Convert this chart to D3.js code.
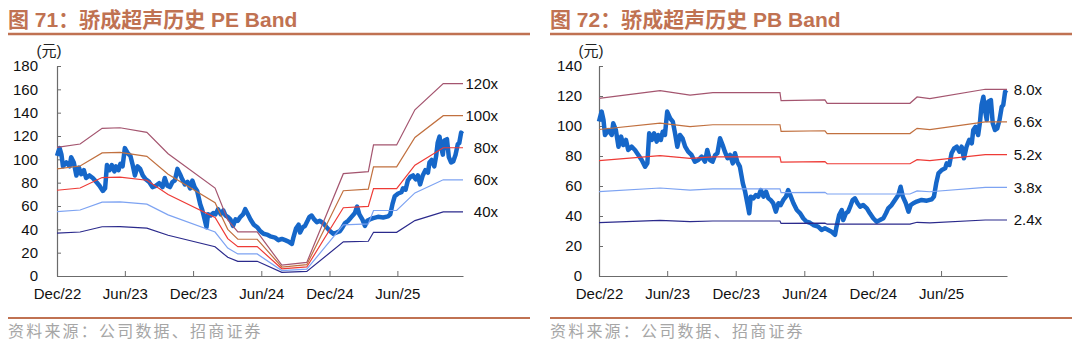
<!DOCTYPE html>
<html>
<head>
<meta charset="utf-8">
<script src="https://cdn.jsdelivr.net/npm/d3@7"></script>
<style>
  body { margin: 0; background: #fff; }
  text { font-family: "Liberation Sans", Arial, "Noto Sans CJK SC", sans-serif; }
</style>
</head>
<body>
<div id="chart"></div>
<script>
// share price (yuan)
var priceDates = ["2022-12-01","2022-12-04","2022-12-08","2022-12-13","2022-12-17","2022-12-26","2023-01-04","2023-01-08","2023-01-15","2023-01-22","2023-01-29","2023-02-04","2023-02-11","2023-02-17","2023-02-26","2023-03-07","2023-03-16","2023-03-25","2023-04-03","2023-04-09","2023-04-14","2023-04-21","2023-04-27","2023-05-04","2023-05-08","2023-05-15","2023-05-20","2023-05-26","2023-06-01","2023-06-09","2023-06-16","2023-06-22","2023-06-28","2023-07-05","2023-07-12","2023-07-19","2023-07-27","2023-08-05","2023-08-14","2023-08-23","2023-09-01","2023-09-10","2023-09-16","2023-09-23","2023-09-30","2023-10-07","2023-10-13","2023-10-20","2023-10-27","2023-11-02","2023-11-09","2023-11-16","2023-11-23","2023-11-29","2023-12-05","2023-12-12","2023-12-20","2023-12-26","2024-01-01","2024-01-06","2024-01-10","2024-01-17","2024-01-24","2024-01-30","2024-02-06","2024-02-13","2024-02-20","2024-02-26","2024-03-03","2024-03-10","2024-03-17","2024-03-24","2024-03-30","2024-04-06","2024-04-13","2024-04-19","2024-04-26","2024-05-03","2024-05-12","2024-05-21","2024-05-29","2024-06-07","2024-06-16","2024-06-25","2024-07-08","2024-07-17","2024-07-26","2024-08-04","2024-08-13","2024-08-22","2024-08-26","2024-09-02","2024-09-09","2024-09-13","2024-09-20","2024-09-26","2024-10-03","2024-10-08","2024-10-14","2024-10-21","2024-10-28","2024-11-05","2024-11-15","2024-11-23","2024-12-02","2024-12-11","2024-12-20","2024-12-29","2025-01-05","2025-01-11","2025-01-20","2025-01-29","2025-02-07","2025-02-13","2025-02-19","2025-02-27","2025-03-06","2025-03-12","2025-03-19","2025-03-28","2025-04-10","2025-04-24","2025-05-07","2025-05-13","2025-05-19","2025-05-25","2025-06-03","2025-06-12","2025-06-16","2025-06-23","2025-06-29","2025-07-06","2025-07-13","2025-07-20","2025-07-26","2025-08-01","2025-08-08","2025-08-15","2025-08-22","2025-08-26","2025-09-01","2025-09-08","2025-09-13","2025-09-17","2025-09-22","2025-09-26","2025-10-01","2025-10-05","2025-10-12","2025-10-17","2025-10-23","2025-10-29","2025-11-04","2025-11-10","2025-11-14","2025-11-19","2025-11-23"];
var priceValues = [103,106,109.6,104,94,97.3,94,101.8,97.3,86.2,92.9,87.3,90.7,84,86.2,84,80.7,77.3,72.9,75.1,95.1,90.7,95.1,89.6,94,90.7,96.2,94,109.6,105.1,102.9,95.1,86.2,94,91.8,86.2,82.9,80.7,76.2,77.3,79.6,76.2,84,77.3,76.2,80.7,81.8,91.8,87.3,82.9,78.5,80.7,75.1,81.8,76.2,72.9,61.8,56.2,48.5,41.8,52.9,51.8,54,52.9,57.3,52.9,56.2,51.8,50.7,48.5,42.9,48.5,47.3,50.7,52.9,57.3,52.9,48.5,44,41.8,38.5,36.2,35.5,34,32.9,30.7,31.8,30.7,29.5,27.5,32.9,40.7,44,37.3,41.8,42.9,47.3,50.7,51.8,48.5,46.2,47.3,45.1,41.8,38.5,36.2,37.3,38.5,41.8,45.1,47.3,50.7,54,59.5,52.9,48.5,42.9,47.3,48.5,49.6,50.7,50.2,51.1,52.9,61.8,68.4,70.7,71.8,75.1,74,81.8,85.1,86.2,82.9,86.2,78.5,86.2,90.7,88.5,97.3,99.5,94,102.9,114,119.5,110.7,104,116.2,117.3,101.8,97.3,98.4,104,112.9,114,122.9,121.8];

// trailing EPS behind the PE band
var epsDates = ["2022-12-01","2023-02-01","2023-04-01","2023-05-19","2023-07-30","2023-09-25","2024-01-29","2024-03-03","2024-03-30","2024-05-21","2024-07-26","2024-10-01","2025-01-07","2025-03-15","2025-03-29","2025-05-30","2025-07-18","2025-10-02","2025-11-24"];
var epsValues = [0.919,0.943,1.055,1.059,1.026,0.873,0.628,0.40,0.315,0.315,0.077,0.097,0.731,0.745,0.936,0.936,1.187,1.374,1.374];
var peMultiples = [120, 100, 80, 60, 40];
var peLabels = ["120x", "100x", "80x", "60x", "40x"];

// book value per share behind the PB band
var bpsDates = ["2022-12-01","2023-05-13","2023-08-01","2023-10-01","2024-03-28","2024-03-31","2024-07-26","2024-08-01","2025-03-10","2025-03-29","2025-05-02","2025-09-27","2025-11-24"];
var bpsValues = [14.8,15.44,15.08,15.28,15.28,14.61,14.67,14.39,14.39,14.92,14.78,15.56,15.56];
var pbMultiples = [8.0, 6.6, 5.2, 3.8, 2.4];
var pbLabels = ["8.0x", "6.6x", "5.2x", "3.8x", "2.4x"];

var xTickDates = ["2022-12-01","2023-06-01","2023-12-01","2024-06-01","2024-12-01","2025-06-01"];
var xTickLabels = ["Dec/22","Jun/23","Dec/23","Jun/24","Dec/24","Jun/25"];
var xStart = "2022-12-01";
var xEnd = "2025-11-24";

var titles = ["图 71：骄成超声历史 PE Band", "图 72：骄成超声历史 PB Band"];
var yUnit = "(元)";
var source = "资料来源：公司数据、招商证券";

function init() {
    var w = 1080;
    var h = 353;
    var parse = d3.timeParse("%Y-%m-%d");
    var titleColor = "#c07252";
    var bandColors = ["#a4556f", "#c1703f", "#ee3b36", "#7da3f2", "#2b2a8c"];

    var svg = d3.select("#chart")
                .append("svg")
                .attr("width", w)
                .attr("height", h)
                .style("background", "#fff");

    var price = priceDates.map(function(d, i) {
        return { date: parse(d), value: priceValues[i] };
    });

    var panels = [
        { x0: 57, x1: 463, left: 8, right: 530, yMax: 180, pad: 19,
          baseDates: epsDates, baseValues: epsValues, mult: peMultiples, labels: peLabels },
        { x0: 599, x1: 1007, left: 550, right: 1072, yMax: 140, pad: 17,
          baseDates: bpsDates, baseValues: bpsValues, mult: pbMultiples, labels: pbLabels }
    ];

    panels.forEach(function(p, k) {
        var top = 66, bottom = 276;

        var x = d3.scaleTime()
                  .domain([parse(xStart), parse(xEnd)])
                  .range([p.x0, p.x1]);
        var y = d3.scaleLinear()
                  .domain([0, p.yMax])
                  .range([bottom, top]);

        // title + rules
        svg.append("text")
           .attr("x", p.left)
           .attr("y", 27)
           .attr("fill", titleColor)
           .style("font-size", "21px")
           .style("font-weight", "bold")
           .text(titles[k]);
        svg.append("line")
           .attr("x1", p.left).attr("x2", p.right)
           .attr("y1", 34).attr("y2", 34)
           .attr("stroke", titleColor)
           .attr("stroke-width", 2.5);
        svg.append("line")
           .attr("x1", p.left).attr("x2", p.right)
           .attr("y1", 318).attr("y2", 318)
           .attr("stroke", titleColor)
           .attr("stroke-width", 2);
        svg.append("text")
           .attr("x", p.left)
           .attr("y", 337)
           .attr("fill", "#a6a6a6")
           .style("font-family", "'Noto Sans CJK SC', sans-serif")
           .style("font-size", "16px")
           .style("letter-spacing", "2.2px")
           .text(source);

        // unit label
        svg.append("text")
           .attr("x", p.x0 - 8)
           .attr("y", 56)
           .attr("text-anchor", "middle")
           .style("font-size", "15px")
           .attr("fill", "#222")
           .text(yUnit);

        // axes
        var yAxis = d3.axisLeft(y)
                      .tickValues(d3.range(0, p.yMax + 1, 20))
                      .tickSizeInner(-4)
                      .tickSizeOuter(0)
                      .tickPadding(p.pad);
        var gy = svg.append("g")
                    .attr("transform", "translate(" + p.x0 + ",0)")
                    .call(yAxis);

        var xAxis = d3.axisBottom(x)
                      .tickValues(xTickDates.map(parse))
                      .tickFormat(function(d, i) { return xTickLabels[i]; })
                      .tickSizeInner(-5)
                      .tickSizeOuter(0)
                      .tickPadding(12);
        var gx = svg.append("g")
                    .attr("transform", "translate(0," + bottom + ")")
                    .call(xAxis);

        [gx, gy].forEach(function(g) {
            g.select(".domain").attr("stroke", "#6b6b6b").attr("stroke-width", 1.2);
            g.selectAll(".tick line").attr("stroke", "#6b6b6b");
            g.selectAll(".tick text")
             .attr("fill", "#111")
             .style("font-size", "15px")
             .style("font-family", "'Liberation Sans', Arial, sans-serif");
        });

        // price line
        var line = d3.line()
                     .x(function(d) { return x(d.date); })
                     .y(function(d) { return y(d.value); });

        svg.append("path")
           .datum(price)
           .attr("d", line)
           .attr("fill", "none")
           .attr("stroke", "#1667c9")
           .attr("stroke-width", 4.5)
           .attr("stroke-linejoin", "round");

        // band lines
        p.mult.forEach(function(m, j) {
            var band = p.baseDates.map(function(d, i) {
                return { date: parse(d), value: p.baseValues[i] * m };
            });
            svg.append("path")
               .datum(band)
               .attr("d", line)
               .attr("fill", "none")
               .attr("stroke", bandColors[j])
               .attr("stroke-width", 1.2);

            var last = band[band.length - 1];
            svg.append("text")
               .attr("x", p.x1 + 35)
               .attr("y", y(last.value))
               .attr("dy", "0.35em")
               .attr("text-anchor", "end")
               .attr("fill", "#111")
               .style("font-size", "15px")
               .text(p.labels[j]);
        });
    });
}

window.onload = init;
</script>
</body>
</html>
